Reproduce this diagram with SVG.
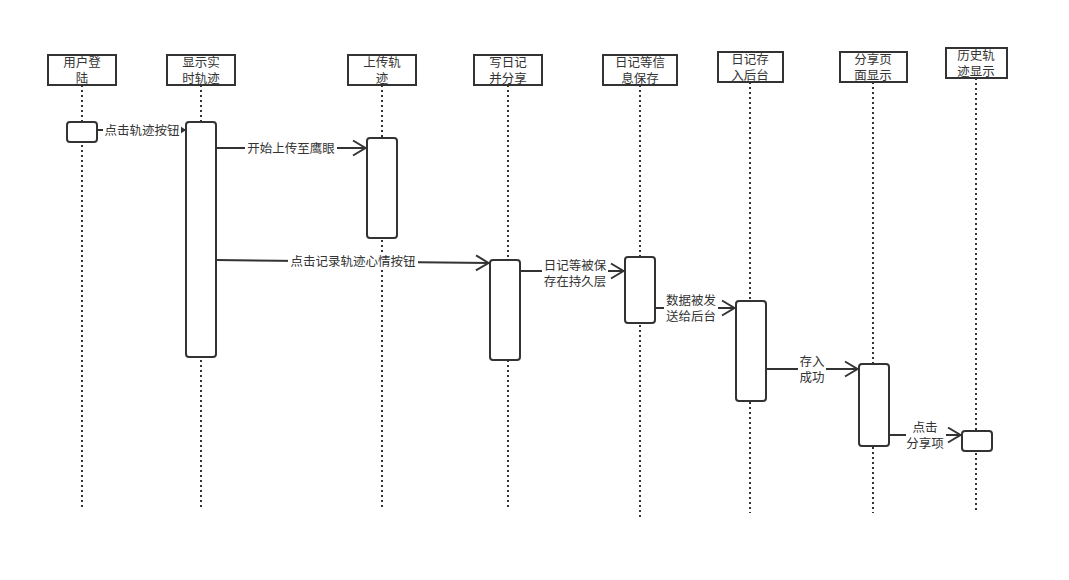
<svg xmlns="http://www.w3.org/2000/svg" width="1069" height="580" viewBox="0 0 1069 580">
<defs>
<style>
.hd{fill:#fff;stroke:#333;stroke-width:2}
.act{fill:#fff;stroke:#333;stroke-width:2}
.life{stroke:#333;stroke-width:2;stroke-dasharray:2 3;fill:none}
.msg{stroke:#333;stroke-width:2;fill:none}
text{font-family:"Noto Sans CJK SC","Liberation Sans",sans-serif;font-size:12.5px;fill:#333;text-anchor:middle}
.lb{fill:#fff}
</style>
<marker id="open" viewBox="0 0 15 18" refX="14" refY="9" markerWidth="15" markerHeight="18" markerUnits="userSpaceOnUse" orient="auto">
<path d="M1,1.5 L13.5,9 L1,16.5" fill="none" stroke="#333" stroke-width="2"/>
</marker>
<marker id="block" viewBox="0 0 6 8" refX="6" refY="4" markerWidth="6" markerHeight="8" markerUnits="userSpaceOnUse" orient="auto">
<path d="M0,0 L6,4 L0,8 Z" fill="#333"/>
</marker>
</defs>
<rect width="1069" height="580" fill="#fff"/>
<g id="lifelines">
<line class="life" x1="82" y1="85" x2="82" y2="510"/>
<line class="life" x1="201" y1="85" x2="201" y2="510"/>
<line class="life" x1="382" y1="85" x2="382" y2="510"/>
<line class="life" x1="508" y1="85" x2="508" y2="510"/>
<line class="life" x1="640" y1="85" x2="640" y2="517"/>
<line class="life" x1="750" y1="82" x2="750" y2="513"/>
<line class="life" x1="873" y1="82" x2="873" y2="513"/>
<line class="life" x1="976" y1="78" x2="976" y2="510"/>
</g>
<g id="n1"><rect class="hd" x="48" y="55" width="68" height="30"/><text x="82" y="67">用户登</text><text x="82" y="83">陆</text></g>
<g id="n2"><rect class="hd" x="167" y="55" width="68" height="30"/><text x="201" y="67">显示实</text><text x="201" y="83">时轨迹</text></g>
<g id="n3"><rect class="hd" x="348" y="55" width="68" height="30"/><text x="382" y="67">上传轨</text><text x="382" y="83">迹</text></g>
<g id="n4"><rect class="hd" x="474" y="55" width="68" height="30"/><text x="508" y="67">写日记</text><text x="508" y="83">并分享</text></g>
<g id="n5"><rect class="hd" x="603" y="55" width="74" height="30"/><text x="640" y="67">日记等信</text><text x="640" y="83">息保存</text></g>
<g id="n6"><rect class="hd" x="718" y="52" width="65" height="30"/><text x="750" y="64">日记存</text><text x="750" y="80">入后台</text></g>
<g id="n7"><rect class="hd" x="840" y="52" width="67" height="30"/><text x="873" y="64">分享页</text><text x="873" y="80">面显示</text></g>
<g id="n8"><rect class="hd" x="946" y="48" width="61" height="30"/><text x="976" y="60">历史轨</text><text x="976" y="76">迹显示</text></g>
<g id="activations">
<rect class="act" x="67" y="122" width="30" height="20" rx="3"/>
<rect class="act" x="186" y="122" width="30" height="235" rx="3"/>
<rect class="act" x="367" y="138" width="30" height="100" rx="3"/>
<rect class="act" x="490" y="260" width="30" height="100" rx="3"/>
<rect class="act" x="625" y="257" width="30" height="66" rx="3"/>
<rect class="act" x="736" y="301" width="30" height="100" rx="3"/>
<rect class="act" x="859" y="364" width="30" height="82" rx="3"/>
<rect class="act" x="962" y="431" width="30" height="20" rx="3"/>
</g>
<g id="connectors">
<line class="msg" x1="97" y1="130" x2="186" y2="130" marker-end="url(#block)"/>
<rect class="lb" x="103" y="122" width="78" height="16"/>
<text x="142" y="135">点击轨迹按钮</text>
<line class="msg" x1="216" y1="148" x2="366" y2="148" marker-end="url(#open)"/>
<rect class="lb" x="245" y="140" width="92" height="16"/>
<text x="291" y="153">开始上传至鹰眼</text>
<line class="msg" x1="216" y1="260" x2="489" y2="263" marker-end="url(#open)"/>
<rect class="lb" x="288" y="253" width="130" height="16"/>
<text x="353" y="266">点击记录轨迹心情按钮</text>
<line class="msg" x1="521" y1="271" x2="624" y2="271" marker-end="url(#open)"/>
<rect class="lb" x="542" y="258" width="66" height="30"/>
<text x="575" y="270">日记等被保</text><text x="575" y="286">存在持久层</text>
<line class="msg" x1="656" y1="308" x2="735" y2="308" marker-end="url(#open)"/>
<rect class="lb" x="664" y="293" width="54" height="30"/>
<text x="691" y="305">数据被发</text><text x="691" y="321">送给后台</text>
<line class="msg" x1="767" y1="369" x2="858" y2="369" marker-end="url(#open)"/>
<rect class="lb" x="798" y="354" width="28" height="30"/>
<text x="812" y="366">存入</text><text x="812" y="382">成功</text>
<line class="msg" x1="890" y1="435" x2="961" y2="435" marker-end="url(#open)"/>
<rect class="lb" x="906" y="420" width="40" height="30"/>
<text x="925" y="432">点击</text><text x="925" y="448">分享项</text>
</g>
</svg>
